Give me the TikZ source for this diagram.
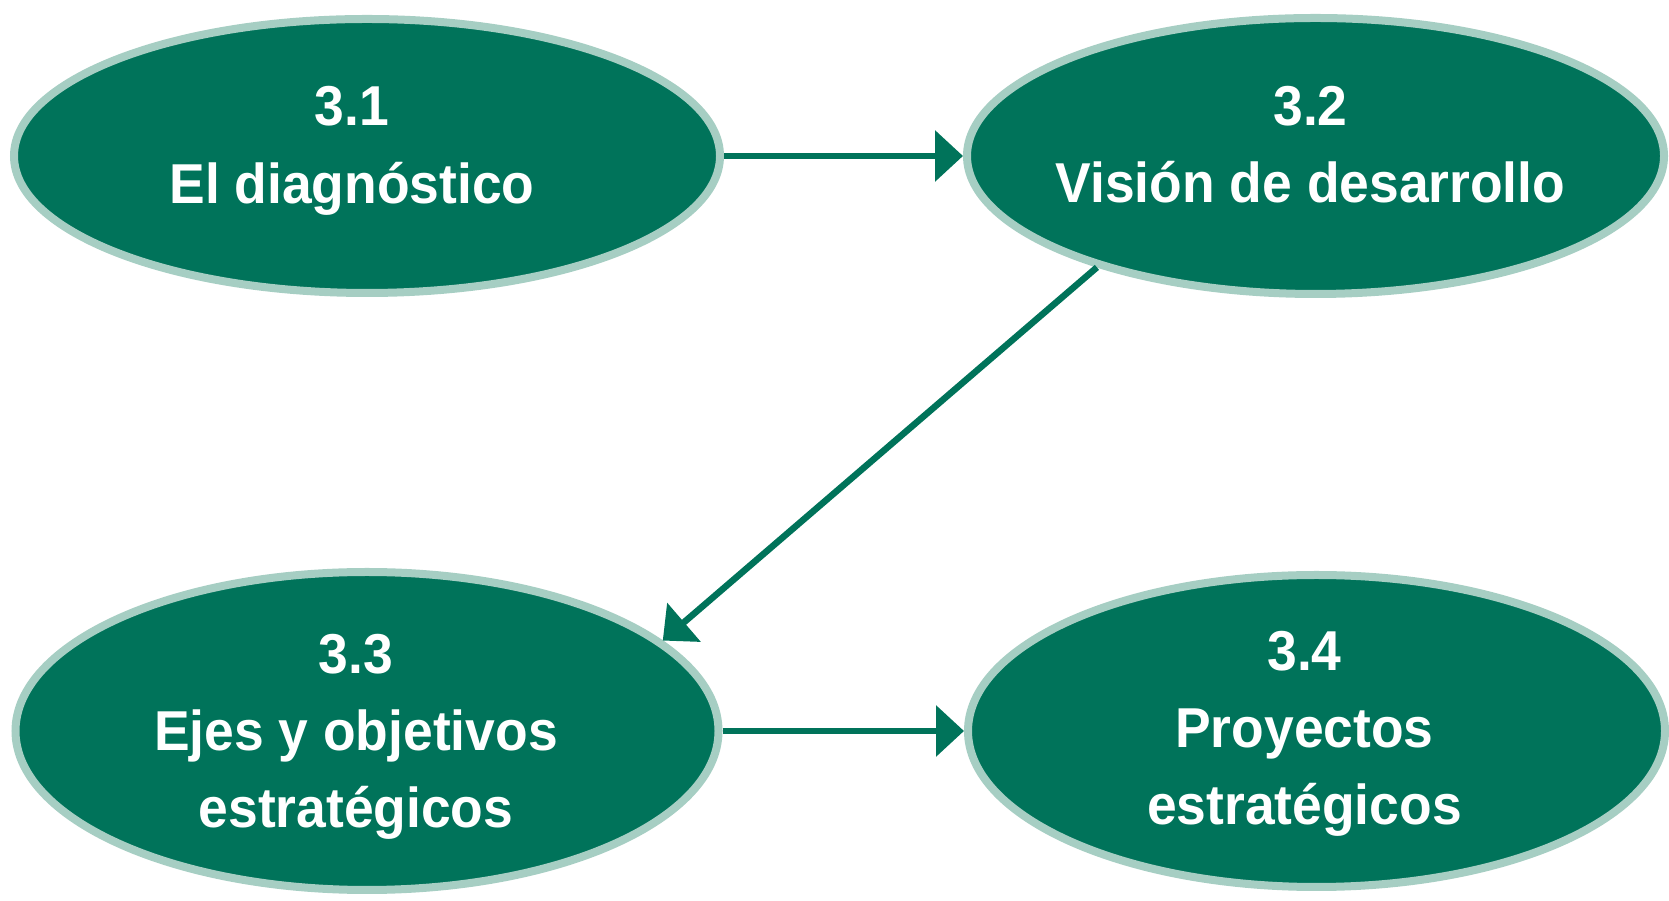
\documentclass[tikz,border=0pt]{standalone}
\usepackage{fontspec}
\newfontfamily\stagefont{Liberation Sans}[FakeStretch=0.95]
\usetikzlibrary{shapes.geometric, arrows.meta, positioning}
\definecolor{stagegreen}{RGB}{0,115,90}
\definecolor{stagerim}{RGB}{166,206,195}

\begin{document}
\begin{tikzpicture}[
        stage/.style={ellipse, draw=stagerim, fill=stagegreen, line width=0.16cm, inner sep=0pt},
        stagetext/.style={align=center, text=white, inner sep=0pt, font=\stagefont\bfseries\fontsize{32}{44}\selectfont},
        flow/.style={-{Triangle[length=0.56cm, width=1cm]}, line width=0.13cm, draw=stagegreen, fill=stagegreen}
    ]
        \useasboundingbox (0,0) rectangle (33.38,18.02);

        % Top row
        \node[stage, minimum width=14.12cm, minimum height=5.48cm] (s1) at (7.34,14.9) {};
        \node[stage, minimum width=13.94cm, minimum height=5.52cm, right=4.78cm of s1] (s2) {};

        % Bottom row
        \node[stage, minimum width=14.06cm, minimum height=6.36cm, below=5.42cm of s1] (s3) {};
        \node[stage, minimum width=13.94cm, minimum height=6.24cm, right=4.83cm of s3] (s4) {};

        % Texts, a bit off centre as in the original
        \node[stagetext] (t1) at ([shift={(-0.3,0.1)}]s1.center) {3.1\\El diagnóstico};
        \node[stagetext] (t2) at ([shift={(-0.1,0.23)}]s2.center) {3.2\\Visión de desarrollo};
        \node[stagetext] (t3) at ([shift={(-0.22,-0.12)}]s3.center) {3.3\\Ejes y objetivos\\estratégicos};
        \node[stagetext] (t4) at ([shift={(-0.24,-0.06)}]s4.center) {3.4\\Proyectos\\estratégicos};

        \draw[flow] (s1) -- (s2);
        \draw[flow] (s2.207) -- (s3.17);
        \draw[flow] (s3) -- (s4);

    \end{tikzpicture}
\end{document}
